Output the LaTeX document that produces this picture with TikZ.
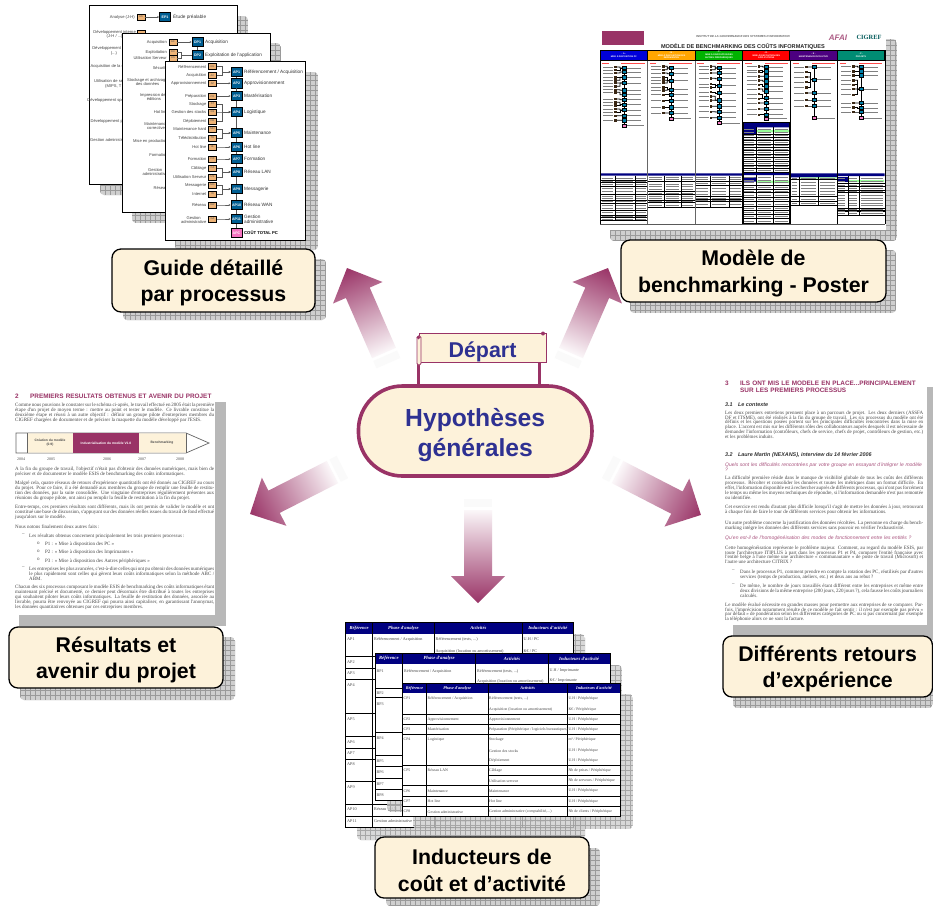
\documentclass[tikz,border=0pt]{standalone}
\usepackage{fontspec}
\setmainfont{Liberation Sans}
\newfontfamily\serifft{Liberation Serif}
\usetikzlibrary{arrows.meta,calc}
\definecolor{maroon}{HTML}{993366}
\definecolor{cream}{HTML}{FDF2DA}
\definecolor{ink}{HTML}{2E3192}
\definecolor{tan}{HTML}{EDB377}
\definecolor{procblue}{HTML}{005E92}
\definecolor{navy}{HTML}{000080}
\definecolor{gridbg}{HTML}{CFCFCF}
\definecolor{gridln}{HTML}{9A9A9A}
\definecolor{shadowgrey}{HTML}{B8B8B8}
\newcommand\fs[2]{\fontsize{#1}{#2}\selectfont}
\newcommand\tdots{...}
\newcommand\slh{ / }
\newcommand\ps{\rule{0pt}{20.5pt}}
\newcommand\actTests{Référencement (tests, ...)}
\newcommand\actGest{Gestion administrative (comptabilité,...)}
\newcommand\actPrep{Préparation (Périphérique / logiciels bureautiques)}
\newcounter{nd}
\newcommand\cellsz{4}
\tikzset{
  auto name/.code={\stepcounter{nd}\tikzset{name=nd\arabic{nd}}},
  every node/.append style={auto name},
  panel/.style={draw=black,line width=1.3pt,fill=cream,rounded corners=9pt,align=center,inner sep=0pt,font=\bfseries\fs{21.3}{26.7}},
  bigink/.style={text=ink,font=\bfseries\fs{24.7}{30},align=center},
  pill/.style={draw=maroon,line width=3.6pt,fill=cream,rounded corners=44pt,inner sep=0pt},
  banner/.style={draw=maroon,line width=0.9pt,fill=cream,inner sep=0pt,text=ink,font=\bfseries\fs{21.4}{24}},
  post/.style={draw=maroon,line width=2.2pt},
  page/.style={draw=black,line width=1pt,fill=white},
  srcb/.style={draw=black,line width=0.8pt,fill=tan,minimum width=8pt,minimum height=6pt,inner sep=0pt,font=\fs{2.6}{3},text=black!70},
  procb/.style={draw=black,line width=0.8pt,fill=procblue,minimum width=11pt,minimum height=9.5pt,inner sep=0pt,text=white,font=\bfseries\fs{3.6}{4}},
  totb/.style={procb,fill=magenta!55,text=white},
  labl/.style={anchor=east,inner sep=0pt,align=right,text=black!75,font=\fs{4.1}{4.8}},
  labc/.style={anchor=east,inner sep=0pt,align=center,text=black!75,font=\fs{4.1}{4.8}},
  labr/.style={anchor=west,inner sep=0pt,align=left,text=black!80,font=\fs{4.7}{5.2}},
  conn/.style={draw=black!65,line width=0.5pt},
  connar/.style={conn,-{Stealth[length=2pt,width=2pt]}},
  para/.style={anchor=north west,inner sep=0pt,align=justify,text=black!72,font={\serifft\fs{5}{4.9}\sloppy}},
  plain/.style={anchor=north west,inner sep=0pt,align=left,text=black!72,font={\serifft\fs{5}{4.9}}},
  headm/.style={anchor=west,inner sep=0pt,align=left,text=maroon,font=\bfseries\fs{6.4}{7}},
  sech/.style={anchor=west,inner sep=0pt,text=black!80,font=\bfseries\itshape\fs{5.4}{6}},
  quest/.style={anchor=north west,inner sep=0pt,align=left,text=maroon!85,font=\itshape\fs{5}{4.9}},
  cell/.style={anchor=west,inner sep=0pt,text=black!72,font={\serifft\fs{\cellsz}{\cellsz}}},
  hcell/.style={inner sep=0pt,text=white,font={\serifft\bfseries\itshape\fs{\cellsz}{\cellsz}}},
  thline/.style={draw=black,line width=0.9pt},
  phead/.style={draw=black,line width=0.7pt,minimum height=10.7pt,inner sep=0pt,align=center,text=white,font=\bfseries\fs{2.2}{2.9}},
  prule/.style={draw=black!50,line width=0.5pt},
  pline/.style={draw=black,line width=0.8pt},
}
\newcommand\gridrect[5][]{\begin{scope}[#1]\clip[rounded corners=4pt] (#2,#3) rectangle (#4,#5);
  \fill[gridbg] (#2,#3) rectangle (#4,#5);
  \draw[gridln,line width=0.45pt,xstep=5pt,ystep=5pt] (#2,#3) grid (#4,#5);\end{scope}}
\newcommand\blockarrow[3]{%
  \path (#1); \pgfgetlastxy{\xa}{\ya}%
  \path (#2); \pgfgetlastxy{\xb}{\yb}%
  \pgfmathsetmacro\baAng{atan2(\yb-\ya,\xb-\xa)-90}%
  \pgfmathsetmacro\baLen{veclen(\xb-\xa,\yb-\ya)}%
  \pgfmathsetmacro\baNeck{\baLen-27}%
  \begin{scope}[transform canvas={shift={(\xa,\ya)},rotate=\baAng}]
    \shade[top color=maroon,bottom color=white!96!maroon]
      (-#3,0) -- (-#3,-\baNeck) -- (-27,-\baNeck) -- (0,-\baLen) -- (27,-\baNeck) -- (#3,-\baNeck) -- (#3,0) -- cycle;
    \fill[black!2] (-#3,3) rectangle (#3,11);
  \end{scope}}
% y list: blue/{browns}
\newcommand\miniflow[4]{% xbrown, xblue, groups, pink y
  \draw[red!70,line width=0.5pt] (#1-41,45) -- (#1-21,45) (#1+17,45) -- (#1+87,45);
  \draw[black,line width=1pt] (#2,57) -- (#2,#4);
  \foreach \by/\bs in {#3}{
    \foreach \b in \bs {
      \draw[black,line width=0.7pt] (#1,\b) -- ($(#1,\b)!0.5!(#2,\b)$) |- (#2,\by);
      \draw[prule] (#1-37,\b) -- (#1-7,\b);
      \fill[black!70!brown] (#1-4,\b-3.5) rectangle (#1+4,\b+3.5);
    }
    \draw[prule] (#2+8,\by) -- (#2+50,\by);
    \draw[black,line width=0.5pt,fill=procblue!80!cyan] (#2-6,\by-5) rectangle (#2+6,\by+5);
  }
  \draw[prule] (#2+8,#4) -- (#2+60,#4);
  \draw[black,line width=0.5pt,fill=magenta!50] (#2-6,#4-5) rectangle (#2+6,#4+5);
}
\newcommand\ptabrows[7]{% x0,x1,x2,x3,ytop,ybottom,rows
  \draw[pline] (#2,#5) -- (#2,#6) (#3,#5) -- (#3,#6);
  \foreach \r [remember=\r as \p (initially #5)] in {#7}{
    \draw[pline] (#1,\r) -- (#4,\r);
    \pgfmathtruncatemacro\nn{max(1,(\r-\p)/9)}
    \foreach \k in {1,...,\nn}{
      \pgfmathsetmacro\yy{\p+\k*(\r-\p)/(\nn+1)}
      \draw[prule] (#1+3,\yy) -- (#2-8,\yy) (#2+3,\yy) -- (#3-8,\yy) (#3+3,\yy) -- (#4-6,\yy);
    }
  }
}
\newcommand\tablehdr[8]{% y0,y1,x0,x1,x2,x3,x4,(unused label names)
  \fill[navy] (#3,#1) rectangle (#7,#2);
  \path (#3,#1) -- (#4,#2) node[midway,hcell] {Référence};
  \path (#4,#1) -- (#5,#2) node[midway,hcell] {Phase d'analyse};
  \path (#5,#1) -- (#6,#2) node[midway,hcell] {Activités};
  \path (#6,#1) -- (#7,#2) node[midway,hcell] {Inducteurs d'activité};
  \draw[thline] (#4,#1) -- (#4,#2) (#5,#1) -- (#5,#2) (#6,#1) -- (#6,#2);
}
\newcommand\tc[3]{\node[cell] at (#1,#2) {#3};}
\begin{document}
\begin{tikzpicture}[x=1pt,y=-1pt]
\useasboundingbox[fill=white] (0,0) rectangle (933,906);
%% ---------- named anchors for the five block arrows
\coordinate (tailTL) at (384,353); \coordinate (tipTL) at (347,268);
\coordinate (tailTR) at (571,353); \coordinate (tipTR) at (608,268);
\coordinate (tailBL) at (332.5,472); \coordinate (tipBL) at (250,514);
\coordinate (tailBR) at (617.5,472); \coordinate (tipBR) at (701,515);
\coordinate (tailB) at (478,510); \coordinate (tipB) at (478,603);
\blockarrow{tailTL}{tipTL}{13}
\blockarrow{tailTR}{tipTR}{13}
\blockarrow{tailBL}{tipBL}{12.5}
\blockarrow{tailBR}{tipBR}{12.5}
\blockarrow{tailB}{tipB}{14}

%% ---------- Guide stack
\gridrect{100}{16}{248}{195}
\draw[page] (89,5) rectangle (237,184);
\node[srcb] (anA) at (141,17) {AN};
\node[labl] at (135,17) {Analyse (J-H)};
\node[procb] (ep1) at (165,17) {EP1};
\node[labr] at (173,17) {Étude préalable};
\draw[connar] (anA) -- (ep1);
\node[srcb] at (141,33) {};
\foreach \y/\t in {34.5/Développement interne\\(J-H\slh\tdots),51/Développement externe\\(\tdots),66/Acquisition de la solution,100/Développement spécifique,121/Développement progiciel}
  {\node[labc] at (136,\y) {\t};}
\node[labc] at (131,140) {Gestion administrative};
\node[inner sep=0pt,anchor=west,text=black!75,font=\fs{4.1}{4.8}] at (94,81) {Utilisation de se};
\node[inner sep=0pt,anchor=west,text=black!75,font=\fs{4.1}{4.8}] at (105,86) {(MIPS, T};
\gridrect{132}{43}{281}{223}
\draw[page] (122,33) rectangle (270,212);
\foreach \n/\y/\t in {AC/42/Acquisition,EX/52/Exploitation,US/58/Utilisation Serveur}
  {\node[srcb] (d\n) at (173,\y) {\n}; \node[labl] at (167,\y) {\t};}
\node[procb] (dp1) at (197.5,42) {DP1};
\node[procb] (dp2) at (197.5,55) {DP2};
\node[labr] at (205,42) {Acquisition};
\node[labr] at (205,55) {Exploitation de l'application};
\draw[connar] (dAC) -- (dp1);
\draw[conn] (dEX.east) -- ++(4,0) |- (dp2.west);
\draw[conn] (dUS.east) -- ++(4,0) |- (dp2.west);
\draw[conn] (dp1) -- (dp2);
\foreach \y/\t in {68/Sécurité,82/Stockage et archivage\\des données,97/Impression des\\éditions,112/Hot line,126/Maintenance\\corrective,141/Mise en production,155/Formation,172/Gestion\\administrative,188/Réseau}
  {\node[labc] at (168,\y) {\t};}
\gridrect{175}{72}{318}{250}
\draw[page] (165,61) rectangle (305,240);
\foreach \c/\y/\t in {RE/66.7/Référencement,AC/75.7/Acquisition,AP/83.3/Approvisionnement,PR/96.7/Préparation,ST/104/Stockage,GS/112/Gestion des stocks,DE/121/Déploiement,MH/129/Maintenance hard,TD/138/Télédistribution,HL/147/Hot line,FO/159/Formation,CA/168/Câblage,US/177/Utilisation Serveur,MG/185/Messagerie,IN/194/Internet,RW/205/Réseau}
  {\node[srcb] (s\c) at (212.5,\y) {\c}; \node[labl] at (206.5,\y) {\t};}
\node[srcb] (sGA) at (212.5,219) {GA};
\node[labc] at (206.5,220) {Gestion\\administrative};
\foreach \c/\y/\t in {AP1/72/Référencement\slh Acquisition,AP2/83.3/Approvisionnement,AP3/96/Mastérisation,AP4/112/Logistique,AP5/133/Maintenance,AP6/147/ Hot line,AP7/159/Formation,AP8/172/Réseau LAN,AP9/189/Messagerie,AP10/205/Réseau WAN,AP11/219/Gestion\\administrative}
  {\node[procb] (\c) at (236.5,\y) {\c}; \node[labr] at (244,\y) {\t};}
\node[totb] (APC) at (236.5,233) {APC};
\node[labr,font=\bfseries\fs{4.2}{5},text=black] at (244,233) {COÛT TOTAL PC};
\foreach \s/\p in {RE/AP1,AC/AP1,AP/AP2,PR/AP3,ST/AP4,GS/AP4,DE/AP4,MH/AP5,TD/AP5,HL/AP6,FO/AP7,CA/AP8,US/AP8,MG/AP9,IN/AP9,RW/AP10,GA/AP11}
  {\draw[connar] (s\s.east) -- ++(5,0) |- (\p.west);}
\foreach \a/\b in {AP1/AP2,AP2/AP3,AP3/AP4,AP4/AP5,AP5/AP6,AP6/AP7,AP7/AP8,AP8/AP9,AP9/AP10,AP10/AP11,AP11/APC}
  {\draw[conn] (\a) -- (\b);}
\gridrect{123}{259}{326}{320}
\node[panel,minimum width=203,minimum height=63] (guide) at (213.5,280.5) {\ps Guide détaillé\\par processus};

%% ---------- Poster
\gridrect{610}{39}{897}{241}
\fill[white] (590,28) rectangle (886,230);
\fill[maroon] (602,31) rectangle (644,45);
\node[anchor=center,inner sep=0pt,text=black!60,font=\bfseries\itshape\fs{2.9}{3}] at (743,36.5) {INSTITUT DE LA GOUVERNANCE DES SYSTEMES D'INFORMATION};
\node[anchor=center,inner sep=0pt,text=maroon!80,font=\bfseries\itshape\fs{8}{8}] at (838,37.5) {AFAI};
\node[anchor=center,inner sep=0pt,text=teal!70!black,font={\serifft\bfseries\fs{6.4}{7}}] at (869,37.5) {CIGREF};
\node[anchor=center,inner sep=0pt,text=black!85,font=\bfseries\fs{5.6}{6}] at (743,46.5) {MODÈLE DE BENCHMARKING DES COÛTS INFORMATIQUES};
\foreach \x/\c/\a/\t in {623.8/blue!85!black/A/MISE À DISPOSITION PC,671.5/orange!70!yellow/B/MISE À DISPOSITION DES\\IMPRIMANTES,719/green!70!black/C/MISE À DISPOSITION DES\\AUTRES PÉRIPHÉRIQUES,766.3/red/D/MISE À DISPOSITION DES\\APPLICATIONS,813.5/blue!50!purple!80!black/E/MAINTENANCE ÉVOLUTIVE,861/teal!90!green/F/PROJETS}
  {\node[phead,fill=\c,minimum width=47.5] at (\x,55.3) {- \a{} -\\\t};}
%% mini flows, in 3x crop units
\begin{scope}[shift={(598,48)},x=0.33333pt,y=-0.33333pt]
\miniflow{53}{79}{60/{57,66},72/{75},88/{88,97},105/{105,115},127/{125},140/{133},155/{153},170/{163,172},186/{183,192},203/{203},217/{217}}{233}
\miniflow{196}{219}{60/{55,65},77/{75},98/{88,97,105},125/{118,127},140/{140},158/{158},178/{178},195/{195}}{212}
\miniflow{339}{365}{60/{55,65},75/{75},92/{91},113/{108,118},135/{132},157/{145,157},175/{175},192/{191},209/{209}}{225}
\miniflow{483}{506}{57/{55},70/{68,72},85/{85},100/{97},115/{110},130/{123},150/{138,152},165/{165},183/{183},200/{200}}{212}
\miniflow{625}{650}{57/{57},95/{72,87,102,118},135/{135},156/{156},174/{174}}{210}
\miniflow{766}{791}{57/{55},70/{70},82/{82},123/{97,110,123,140},165/{165},180/{178},192/{192}}{210}
\end{scope}
%% lower tables, in 3x crop units
\begin{scope}[shift={(598,120)},x=0.33333pt,y=-0.33333pt]
\fill[navy] (8,160) rectangle (150,167) (150,160) rectangle (292,167) (292,160) rectangle (435,167) (578,160) rectangle (718,172) (718,160) rectangle (860,168);
\ptabrows{8}{52}{112}{150}{167}{300}{180,188,198,222,240,250,270,285,293,300}
\ptabrows{150}{200}{250}{292}{167}{262}{185,215,222,240,248,262}
\ptabrows{292}{338}{393}{435}{167}{262}{185,195,230,238,245,262}
\fill[white] (436,8) rectangle (575,310);
\fill[navy] (436,8) rectangle (575,22) (437,22) rectangle (475,42) (436,158) rectangle (575,165) (437,172) rectangle (475,185);
\fill[green!40!white] (477,30) rectangle (574,37) (477,182) rectangle (574,189);
\ptabrows{436}{476}{527}{575}{22}{158}{42,52,62,72,82,92,102,112,125,135,145,158}
\ptabrows{436}{476}{527}{575}{165}{310}{195,207,218,232,245,258,270,282,295,310}
\draw[black,line width=1.5pt] (435,8) rectangle (575,311);
\fill[green!40!white] (606,172) rectangle (716,176) (752,180) rectangle (858,186);
\fill[navy] (720,170) rectangle (750,185);
\ptabrows{578}{605}{662}{718}{172}{255}{178,230,245,255}
\ptabrows{718}{750}{785}{860}{168}{285}{190,200,212,218,265,270,275,285}
\end{scope}
\draw[black!60,line width=1pt] (647.7,60.7) -- (647.7,224) (695.3,60.7) -- (695.3,224);
\draw[black,line width=1pt] (600,50) -- (600,224) (742.7,60.7) -- (742.7,224) (790,60.7) -- (790,224) (837.3,60.7) -- (837.3,224) (885,50) -- (885,224);
\draw[black!65,line width=1pt] (600,224) -- (885,224);
\gridrect{630}{250}{896}{313}
\node[panel,minimum width=265,minimum height=62] (poster) at (753.5,271) {\ps Modèle de\\benchmarking - Poster};

%% ---------- Results page
\fill[shadowgrey] (19,402) rectangle (226,626);
\fill[white] (10,388) rectangle (215,615);
\node[headm] at (15,396) {2};
\node[headm,text width=190] at (30,396) {PREMIERS RESULTATS OBTENUS ET AVENIR DU PROJET};
\node[para,text width=199] at (15,402.6) {Comme nous pouvions le constater sur le schéma ci-après, le travail effectué en 2005 était la première étape d'un projet de moyen terme : mettre au point et tester le modèle. Ce livrable constitue la deuxième étape et réussi à un autre objectif : définir un groupe pilote d'entreprises membres du CIGREF chargées de documenter et de préciser la maquette du modèle développé par l'ESIS.};
\draw[black!60,line width=0.7pt,fill=white] (16,433) -- (186,433) -- (209,443) -- (186,453) -- (16,453) -- cycle;
\fill[cream] (27,433.4) rectangle (73,452.6) (139,433.4) rectangle (186,452.6);
\fill[maroon] (73,433) rectangle (139,453);
\draw[black!60,line width=0.7pt] (27,433) -- (27,453) (186,433) -- (186,453);
\node[inner sep=0pt,align=center,text=black!70,font=\bfseries\fs{3.3}{4}] at (50,443) {Création du modèle\\(0.9)};
\node[inner sep=0pt,align=center,text=white,font=\bfseries\fs{3.3}{4}] at (106,443) {Industrialisation du modèle V1.0};
\node[inner sep=0pt,align=center,text=black!70,font=\bfseries\fs{3.3}{4}] at (162,443) {Benchmarking};
\foreach \x/\t in {21/2004,51/2005,107/2006,142/2007,180/2008}
  {\node[inner sep=0pt,text=black!70,font={\serifft\fs{4}{4}}] at (\x,459.5) {\t};}
\node[para,text width=199] at (15,466.6) {A la fin du groupe de travail, l'objectif n'était pas d'obtenir des données numériques, mais bien de préciser et de documenter le modèle ESIS de benchmarking des coûts informatiques.};
\node[para,text width=199] at (15,481) {Malgré cela, quatre réseaux de retours d'expérience quantitatifs ont été donnés au CIGREF au cours du projet. Pour ce faire, il a été demandé aux membres du groupe de remplir une feuille de restitution des données, par la suite consolidée. Une vingtaine d'entreprises régulièrement présentes aux réunions du groupe pilote, ont ainsi pu remplir la feuille de restitution à la fin du projet.};
\node[para,text width=199] at (15,504.6) {Entre-temps, ces premiers résultats sont différents, mais ils ont permis de valider le modèle et ont constitué une base de discussion, s'appuyant sur des données réelles issues du travail de fond effectué jusqu'alors sur le modèle.};
\node[plain] at (15,525) {Nous notons finalement deux autres faits :};
\node[plain] at (22,533.7) {–};
\node[plain] at (29,533.7) {Les résultats obtenus concernent principalement les trois premiers processus :};
\foreach \y/\t in {541.7/P1 : « Mise à disposition des PC »,550/P2 : « Mise à disposition des Imprimantes »,558.4/P3 : « Mise à disposition des Autres périphériques »}
  {\node[plain] at (37,\y) {o}; \node[plain] at (45,\y) {\t};}
\node[plain] at (22,566.7) {–};
\node[para,text width=185] at (29,566.7) {Les entreprises les plus avancées, c'est-à-dire celles qui ont pu obtenir des données numériques le plus rapidement sont celles qui gèrent leurs coûts informatiques selon la méthode ABC / ABM.};
\node[para,text width=199] at (15,585) {Chacun des six processus composant le modèle ESIS de benchmarking des coûts informatiques étant maintenant précisé et documenté, ce dernier peut désormais être distribué à toutes les entreprises qui souhaitent piloter leurs coûts informatiques. La feuille de restitution des données, associée au livrable, pourra être renvoyée au CIGREF qui pourra ainsi capitaliser, en garantissant l'anonymat, les données quantitatives obtenues par ces entreprises membres.};
\gridrect{20}{637}{235}{700}
\node[panel,minimum width=214,minimum height=61] (result) at (116,657.5) {\ps Résultats et\\avenir du projet};

%% ---------- Experience page
\fill[shadowgrey] (733,387) rectangle (933,640);
\fill[white] (722,376) rectangle (927,625);
\node[headm] at (725,383) {3};
\node[headm,text width=192] at (740,386.5) {ILS ONT MIS LE MODELE EN PLACE...PRINCIPALEMENT\\SUR LES PREMIERS PROCESSUS};
\node[sech] at (725,405) {3.1\quad Le contexte};
\node[para,text width=198] at (725,410.5) {Les deux premiers entretiens prennent place à un parcours de projet. Les deux derniers (ASSFA DF et ITSME), ont été réalisés à la fin du groupe de travail. Les six processus du modèle ont été définis et les questions posées portent sur les principales difficultés rencontrées dans la mise en place. L'accent est mis sur les différents rôles des collaborateurs auprès desquels il est nécessaire de demander l'information (contrôleurs, chefs de service, chefs de projet, contrôleurs de gestion, etc.) et les problèmes induits.};
\node[sech] at (725,455) {3.2\quad Laure Martin (NEXANS), interview du 14 février 2006};
\node[quest,text width=198] at (725,462.6) {Quels sont les difficultés rencontrées par votre groupe en essayant d'intégrer le modèle ?};
\node[para,text width=198] at (725,476) {La difficulté première réside dans le manque de visibilité globale de tous les coûts des différents processus. Récolter et consolider les données et toutes les métriques dans un format difficile. En effet, l'information disponible est à rechercher auprès de différents processus, qui n'ont pas forcément le temps ou même les moyens techniques de répondre, si l'information demandée n'est pas remontée ou identifiée.};
\node[para,text width=198] at (725,505) {Cet exercice est rendu d'autant plus difficile lorsqu'il s'agit de mettre les données à jour, retrouvant à chaque fois de faire le tour de différents services pour obtenir les informations.};
\node[para,text width=198] at (725,521) {Un autre problème concerne la justification des données récoltées. La personne en charge du benchmarking intègre les données des différents services sans pouvoir en vérifier l'exhaustivité.};
\node[quest,text width=198] at (725,536) {Qu'en est-il de l'homogénéisation des modes de fonctionnement entre les entités ?};
\node[para,text width=198] at (725,545.5) {Cette homogénéisation représente le problème majeur. Comment, au regard du modèle ESIS, par toute l'architecture ITIPLUS à part dans les processus P1 et P4, comparer l'entité française avec l'entité belge à l'une même une architecture « communautaire » de poste de travail (Microsoft) et l'autre une architecture CITRIX ?};
\node[plain] at (732,570) {–};
\node[para,text width=183] at (740,570) {Dans le processus P1, comment prendre en compte la rotation des PC, réutilisés par d'autres services (temps de production, ateliers, etc.) et deux ans au rebut ?};
\node[plain] at (732,583.5) {–};
\node[para,text width=183] at (740,583.5) {De même, le nombre de jours travaillés étant différent entre les entreprises et même entre deux divisions de la même entreprise (200 jours, 220 jours ?), cela fausse les coûts journaliers calculés.};
\node[para,text width=198] at (725,602.5) {Le modèle évalué nécessite en grandes masses pour permettre aux entreprises de se comparer. Parfois, l'imprécision notamment résulte de ce modèle se fait sentir : il n'est par exemple pas prévu « par défaut » de pondération selon les différentes catégories de PC ou si pas concernant par exemple la téléphonie alors ce ne sont la facture.};
\gridrect{733}{646}{933}{708}
\node[panel,minimum width=209.5,minimum height=61] (retours) at (827.7,666.5) {\ps Différents retours\\d’expérience};

%% ---------- Tables
\gridrect[opacity=.8]{357}{634}{585}{840}
\renewcommand\cellsz{4.6}
\draw[page] (345.7,622.3) rectangle (573.3,827.3);
\tablehdr{622.3}{634}{345.7}{372.7}{434.3}{522.3}{573.3}{}
\draw[thline] (345.7,622.3) rectangle (573.3,827.3) (372.7,634) -- (372.7,827.3) (434.3,634) -- (434.3,827.3) (522.3,634) -- (522.3,827.3);
\foreach \y in {656.7,668.3,679.3,713.3,736.7,748.3,759,781.7,804,816}{\draw[thline] (345.7,\y) -- (573.3,\y);}
\renewcommand\cellsz{4.2}
\foreach \y/\n in {639/AP1,662/AP2,673/AP3,685/AP4,719/AP5,741.7/AP6,753/AP7,764/AP8,787/AP9,809/AP10,821.3/AP11}
  {\tc{347}{\y}{\n}}
\tc{374}{639}{Référencement / Acquisition}
\tc{374}{809}{Réseau WAN}
\tc{374}{821.3}{Gestion administrative}
\tc{435.5}{639}{Référencement (tests, ...)}\tc{523.5}{639}{U.H / PC}
\tc{435.5}{651}{Acquisition (location ou amortissement)}\tc{523.5}{651}{K€ / PC}
\tc{435.5}{821.3}{Gestion administrative (comptabilité,...)}\tc{523.5}{821.3}{Nb de clients / PC}
\gridrect[opacity=.8]{387}{665}{622}{812}
\renewcommand\cellsz{4.7}
\draw[page] (375,653.3) rectangle (610,800.7);
\tablehdr{653.3}{664.3}{375}{402.7}{475.7}{548.3}{610}{}
\draw[thline] (375,653.3) rectangle (610,800.7) (402.7,664.3) -- (402.7,800.7) (475.7,664.3) -- (475.7,800.7) (548.3,664.3) -- (548.3,800.7);
\foreach \y in {688.3,697.7,732.7,755.7,766.7,778.3,789.3}{\draw[thline] (375,\y) -- (610,\y);}
\renewcommand\cellsz{4.1}
\foreach \y/\n in {671/BP1,692.7/BP2,704.3/BP3,737.7/BP4,761/BP5,772.3/BP6,783.7/BP7,795/BP8}
  {\tc{376.5}{\y}{\n}}
\tc{404}{671}{Référencement / Acquisition}\tc{477}{671}{Référencement (tests, ...)}\tc{549.5}{671}{U.H / Imprimante}
\tc{477}{681}{Acquisition (location ou amortissement)}\tc{549.5}{681}{K€ / Imprimante}
\gridrect[opacity=.8]{413}{694}{633}{829}
\renewcommand\cellsz{4.2}
\draw[page] (402.3,683.3) rectangle (620.7,816.7);
\tablehdr{683.3}{693.3}{402.3}{426.7}{488}{567.3}{620.7}{}
\draw[thline] (402.3,683.3) rectangle (620.7,816.7) (426.7,693.3) -- (426.7,816.7) (488,693.3) -- (488,816.7) (567.3,693.3) -- (567.3,816.7);
\foreach \y in {714.3,724.3,734.3,765.3,785.7,796,806.7}{\draw[thline] (402.3,\y) -- (620.7,\y);}
\draw[thline] (488,775.7) -- (620.7,775.7);
\renewcommand\cellsz{3.9}
\foreach \y/\n/\t in {698.5/CP1/Référencement\slh Acquisition,719.3/CP2/Approvisionnement,729.3/CP3/Mastérisation,739.5/CP4/Logistique,770.5/CP5/Réseau LAN,791/CP6/Maintenance,801.3/CP7/Hot line,811.7/CP8/Gestion administrative}
  {\tc{403.5}{\y}{\n}\tc{427.5}{\y}{\t}}
\foreach \y/\a/\i in {698.5/\actTests/U.H\slh Périphérique,709.3/Acquisition (location ou amortissement)/K€\slh Périphérique,719.3/Approvisionnement/U.H\slh Périphérique,729.3/\actPrep/U.H\slh Périphérique,739.5/Stockage/m²\slh Périphérique,751/Gestion des stocks/U.H\slh Périphérique,760.7/Déploiement/U.H\slh Périphérique,770.5/Câblage/Nb de prises\slh Périphérique,780.7/Utilisation serveur/Nb de serveurs\slh Périphérique,791/Maintenance/U.H\slh Périphérique,801.3/Hot line/U.H\slh Périphérique,811.7/\actGest/Nb de clients\slh Périphérique}
  {\tc{489}{\y}{\a}\tc{568.3}{\y}{\i}}
\gridrect{386}{848}{600}{906}
\node[panel,minimum width=214,minimum height=61] (induct) at (482,867.5) {\ps Inducteurs de\\coût et d’activité};

%% ---------- Centre
\node[pill,minimum width=233.5,minimum height=90] (hypo) at (475.2,431) {};
\node[bigink] at (475.2,435) {Hypothèses\\générales};
\node[banner,minimum width=127,minimum height=26] (depart) at (482.5,348) {\rule{0pt}{24pt}Départ};
\draw[post] (depart.south west) -- (depart.south west |- hypo.north);
\draw[post] ([xshift=-7pt]depart.south east) -- ([xshift=-7pt]depart.south east |- hypo.north);
\draw[maroon,line width=0.8pt,fill=cream,rounded corners=1.5pt] (417,336) rectangle (421,365);
\fill[maroon] (418.5,337.5) circle (1.8) (543,333.5) circle (2);
\end{tikzpicture}
\end{document}
